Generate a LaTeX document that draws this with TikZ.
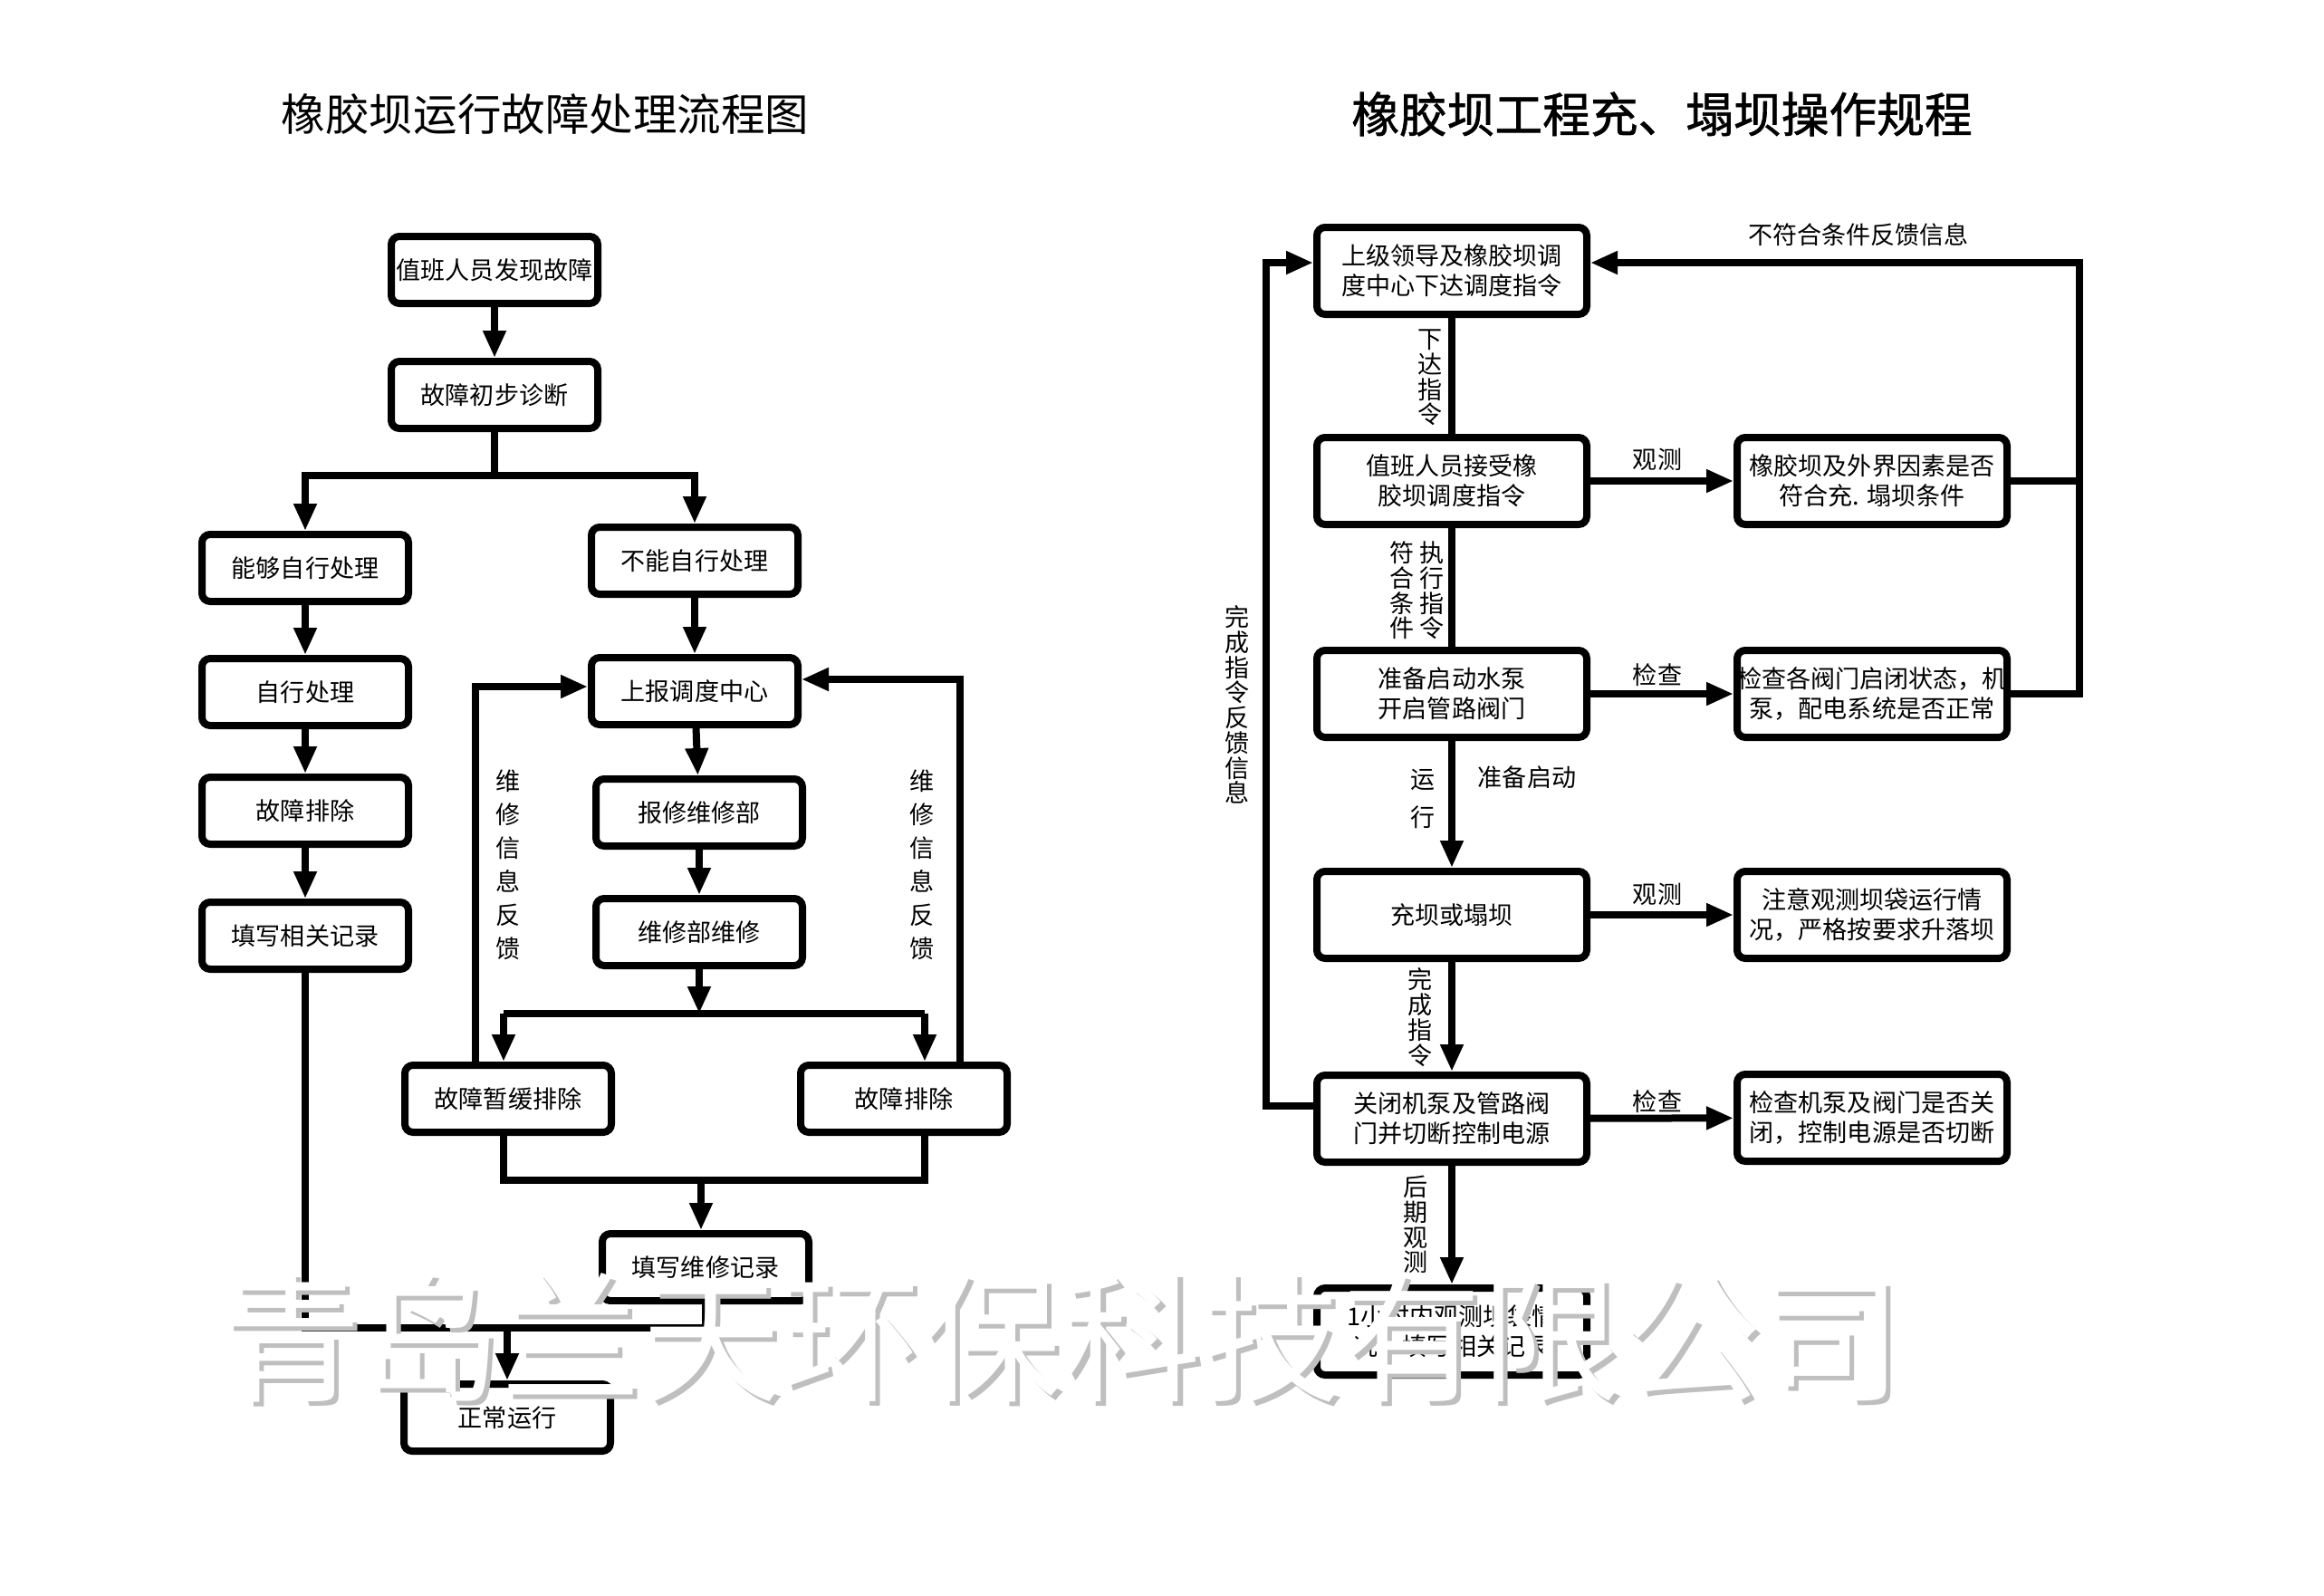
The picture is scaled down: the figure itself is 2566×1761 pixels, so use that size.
\documentclass[tikz,border=0pt]{standalone}
\usepackage{fontspec}
\newfontfamily\cjk{Noto Sans CJK SC}
\newfontfamily\cjkm[FakeBold=1.2]{Noto Sans CJK SC}
\usetikzlibrary{arrows.meta,calc}
\newcommand{\btext}{\cjk\fontsize{7.7pt}{9.4pt}\selectfont}
\newcommand{\vtext}{\cjk\fontsize{7.7pt}{7.9pt}\selectfont}
\begin{document}
\begin{tikzpicture}[x=0.1mm,y=-0.1mm,
  box/.style={draw, line width=0.8mm, rounded corners=0.9mm, align=center, inner sep=0pt, font=\btext},
  lb/.style={box, minimum width=22.8mm, minimum height=7.4mm},
  rb/.style={box, minimum width=29.8mm, minimum height=9.6mm},
  ln/.style={line width=0.8mm},
  arr/.style={line width=0.8mm, -{Triangle[length=3mm,width=2.4mm]}},
  lab/.style={font=\btext, inner sep=0pt, align=center},
  vlab/.style={font=\vtext, inner sep=0pt, align=center},
  wm/.style={font=\cjk\fontsize{44pt}{44pt}\selectfont, inner sep=0pt},
]
\fill[white] (0,0) rectangle (2566,1761);
\useasboundingbox (0,0) rectangle (2566,1761);

% titles
\node[inner sep=0pt, font=\cjk\fontsize{13.8pt}{14pt}\selectfont] (t1) at (602,126) {橡胶坝运行故障处理流程图};
\node[inner sep=0pt, font=\cjkm\fontsize{15pt}{15pt}\selectfont] (t2) at (1835,126) {橡胶坝工程充、塌坝操作规程};

% ---------- left chart ----------
\node[lb] (L1) at (546,298) {值班人员发现故障};
\node[lb] (L2) at (546,436) {故障初步诊断};
\node[lb] (L3) at (337,627) {能够自行处理};
\node[lb] (L4) at (767,619) {不能自行处理};
\node[lb] (L5) at (337,764) {自行处理};
\node[lb] (L6) at (337,895) {故障排除};
\node[lb] (L7) at (337,1033) {填写相关记录};
\node[lb] (L8) at (767,763) {上报调度中心};
\node[lb] (L9) at (772,897) {报修维修部};
\node[lb] (L10) at (772,1029) {维修部维修};
\node[lb] (L11) at (561,1213) {故障暂缓排除};
\node[lb] (L12) at (998,1213) {故障排除};
\node[lb] (L13) at (779,1399) {填写维修记录};
\node[lb] (L14) at (560,1565) {正常运行};

\draw[arr] (L1) -- (L2);
\coordinate (b1) at (546,525);
\draw[ln] (L2) -- (b1);
\draw[arr] (b1) -| (L3);
\draw[arr] (b1) -| (L4);
\draw[arr] (L3) -- (L5);
\draw[arr] (L5) -- (L6);
\draw[arr] (L6) -- (L7);
\draw[arr] (L4) -- (L8);
\draw[arr] (L8) -- (L9);
\draw[arr] (L9) -- (L10);
\coordinate (b2) at (772,1119);
\coordinate (c1) at (556,1119);
\coordinate (c2) at (1021,1119);
\draw[arr] (L10) -- (b2);
\draw[ln] (c1) -- (c2);
\draw[arr] (c1) -- (c1 |- L11.north);
\draw[arr] (c2) -- (c2 |- L12.north);
\coordinate (f1) at (525,758);
\coordinate (f2) at (1060,750);
\draw[arr] (f1 |- L11.north) -- (f1) -- (f1 -| L8.west);
\draw[arr] (f2 |- L12.north) -- (f2) -- (f2 -| L8.east);
\node[vlab, font=\cjk\fontsize{7.7pt}{10.5pt}\selectfont] (v1) at (561,955) {维\\修\\信\\息\\反\\馈};
\node[vlab, font=\cjk\fontsize{7.7pt}{10.5pt}\selectfont] (v2) at (1018,955) {维\\修\\信\\息\\反\\馈};
\coordinate (m1) at (556,1303);
\coordinate (m2) at (1021,1303);
\coordinate (m3) at (774,1303);
\draw[ln] (m1 |- L11.south) -- (m1) -- (m2) -- (m2 |- L12.south);
\draw[arr] (m3) -- (m3 |- L13.north);
\coordinate (n1) at (337,1466);
\coordinate (n2) at (779,1466);
\coordinate (n3) at (560,1466);
\draw[ln] (L7) -- (n1) -- (n2) -- (L13);
\draw[arr] (n3) -- (L14);

% ---------- right chart ----------
\node[rb] (R1) at (1603,299) {上级领导及橡胶坝调\\度中心下达调度指令};
\node[rb] (R2) at (1603,531) {值班人员接受橡\\胶坝调度指令};
\node[rb] (R3) at (1603,766) {准备启动水泵\\开启管路阀门};
\node[rb] (R4) at (1603,1010) {充坝或塌坝};
\node[rb] (R5) at (1603,1235) {关闭机泵及管路阀\\门并切断控制电源};
\node[rb] (R6) at (1603,1470) {1小时内观测坝袋情\\况，填写相关记录};
\node[rb] (S1) at (2067,531) {橡胶坝及外界因素是否\\符合充. 塌坝条件};
\node[rb] (S2) at (2067,766) {检查各阀门启闭状态，机\\泵，配电系统是否正常};
\node[rb] (S3) at (2067,1010) {注意观测坝袋运行情\\况，严格按要求升落坝};
\node[rb] (S4) at (2067,1234) {检查机泵及阀门是否关\\闭，控制电源是否切断};

\draw[ln] (R1) -- (R2);
\draw[ln] (R2) -- (R3);
\draw[arr] (R3) -- (R4);
\draw[arr] (R4) -- (R5);
\draw[arr] (R5) -- (R6);
\draw[arr] (R2) -- (S1);
\draw[arr] (R3) -- (S2);
\draw[arr] (R4) -- (S3);
\draw[arr] (R5) -- (S4);

\coordinate (q) at (2296,290);
\draw[ln] (S1.east) -- (S1.east -| q);
\draw[arr] (S2.east) -- (S2.east -| q) -- (q) -- (q -| R1.east);
\coordinate (p) at (1398,290);
\coordinate (pr) at (1398,1221);
\draw[arr] (pr -| R5.west) -- (pr) -- (p) -- (p -| R1.west);

\node[lab] (k1) at (2052,259) {不符合条件反馈信息};
\node[vlab] (k2) at (1366,778) {完\\成\\指\\令\\反\\馈\\信\\息};
\node[vlab] (k3) at (1579,417) {下\\达\\指\\令};
\node[vlab] (k4) at (1548,652) {符\\合\\条\\件};
\node[vlab] (k5) at (1581,652) {执\\行\\指\\令};
\node[vlab, font=\cjk\fontsize{7.7pt}{11.7pt}\selectfont] (k6) at (1571,882) {运\\行};
\node[lab] (k7) at (1686,858) {准备启动};
\node[vlab] (k8) at (1568,1123) {完\\成\\指\\令};
\node[vlab] (k9) at (1563,1352) {后\\期\\观\\测};
\node[lab] (k10) at (1830,507) {观测};
\node[lab] (k11) at (1830,745) {检查};
\node[lab] (k12) at (1830,987) {观测};
\node[lab] (k13) at (1830,1216) {检查};

% watermark
\node[wm, text=black!25] (w0) at (1177,1482) {青岛兰天环保科技有限公司};
\node[wm, text=white] (w1) at (1172,1477) {青岛兰天环保科技有限公司};
\end{tikzpicture}
\end{document}
